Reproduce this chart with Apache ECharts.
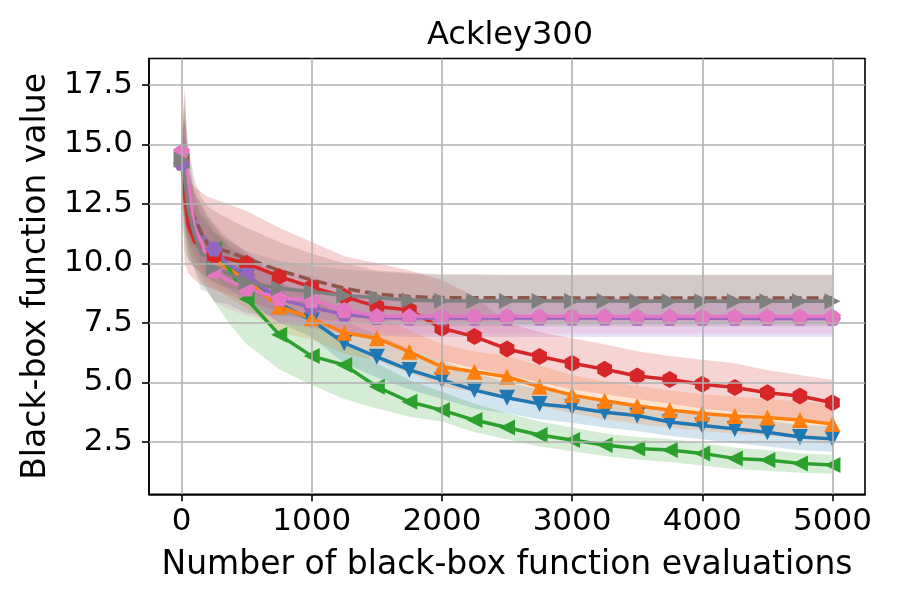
<!DOCTYPE html>
<html>
<head>
<meta charset="utf-8">
<script src="https://cdn.jsdelivr.net/npm/echarts@6/dist/echarts.min.js"></script>
<style>
html, body { margin: 0; padding: 0; background: #fff; }
#chart { width: 900px; height: 600px; }
</style>
</head>
<body>
<div id="chart"></div>
<script>
const evals = [0, 25, 50, 100, 150, 200, 250, 350, 500, 750, 1000, 1250, 1500, 1750, 2000, 2250, 2500, 2750, 3000, 3250, 3500, 3750, 4000, 4250, 4500, 4750, 5000];

const xTicks = [0, 1000, 2000, 3000, 4000, 5000];
const yTicks = [2.5, 5.0, 7.5, 10.0, 12.5, 15.0, 17.5];

// blue, down triangles
const blueMean = [14.3, 13.2, 11.9, 11.2, 10.8, 10.5, 10.3, 9.9, 9.4, 8.3, 7.6, 6.65, 6.07, 5.52, 5.1, 4.67, 4.35, 4.09, 3.95, 3.74, 3.6, 3.33, 3.18, 3.04, 2.9, 2.7, 2.62];
const blueLow = [13.2, 11.5, 10.2, 9.8, 9.6, 9.4, 9.2, 8.9, 8.5, 7.5, 6.9, 5.8, 5.2, 4.7, 4.3, 3.9, 3.7, 3.45, 3.3, 3.1, 2.95, 2.75, 2.6, 2.45, 2.3, 2.15, 2.08];
const blueHigh = [15.5, 15.2, 13.5, 12.5, 12.0, 11.6, 11.3, 10.8, 10.3, 9.2, 8.6, 7.6, 7.0, 6.4, 5.9, 5.4, 5.0, 4.7, 4.5, 4.3, 4.1, 3.85, 3.7, 3.55, 3.4, 3.2, 3.15];

// orange, up triangles
const orangeMean = [14.5, 13.5, 12.3, 11.4, 10.8, 10.5, 10.2, 9.8, 9.3, 8.18, 7.69, 7.08, 6.85, 6.28, 5.65, 5.44, 5.23, 4.81, 4.46, 4.22, 4.0, 3.83, 3.69, 3.58, 3.52, 3.41, 3.24];
const orangeLow = [13.2, 11.8, 10.6, 10.0, 9.5, 9.2, 9.0, 8.6, 8.1, 7.1, 6.8, 6.2, 5.9, 5.4, 4.8, 4.6, 4.4, 4.0, 3.7, 3.45, 3.25, 3.1, 2.95, 2.85, 2.75, 2.65, 2.5];
const orangeHigh = [15.8, 16.0, 14.0, 12.8, 12.2, 11.8, 11.5, 11.0, 10.4, 9.2, 8.6, 8.1, 7.8, 7.2, 6.6, 6.3, 6.1, 5.7, 5.3, 5.05, 4.85, 4.65, 4.5, 4.4, 4.3, 4.2, 4.05];

// green, left triangles
const greenMean = [14.3, 13.4, 12.4, 11.6, 11.2, 10.9, 10.6, 9.9, 8.5, 7.0, 6.1, 5.73, 4.81, 4.18, 3.83, 3.41, 3.1, 2.78, 2.57, 2.36, 2.22, 2.15, 2.01, 1.8, 1.73, 1.59, 1.52];
const greenLow = [13.0, 10.5, 10.2, 9.8, 9.2, 8.8, 8.4, 7.6, 6.6, 5.55, 4.88, 4.3, 3.9, 3.55, 3.35, 2.9, 2.6, 2.3, 2.1, 1.9, 1.75, 1.65, 1.5, 1.35, 1.28, 1.2, 1.15];
const greenHigh = [15.5, 16.5, 14.5, 13.0, 12.5, 12.0, 11.6, 10.8, 9.8, 8.3, 7.5, 6.8, 5.8, 5.1, 4.6, 4.1, 3.7, 3.35, 3.1, 2.85, 2.7, 2.6, 2.45, 2.25, 2.15, 2.0, 1.94];

// red, hexagons
const redMean = [14.3, 12.8, 11.6, 10.9, 10.7, 10.5, 10.3, 10.2, 10.0, 9.45, 9.0, 8.6, 8.18, 8.04, 7.27, 6.92, 6.4, 6.08, 5.8, 5.55, 5.26, 5.12, 4.92, 4.78, 4.56, 4.42, 4.14];
const redLow = [13.0, 10.0, 9.6, 9.3, 9.1, 9.0, 8.9, 8.7, 8.4, 8.0, 7.6, 7.2, 6.7, 6.4, 5.9, 5.6, 5.3, 5.0, 4.7, 4.5, 4.3, 4.1, 3.9, 3.75, 3.6, 3.45, 3.2];
const redHigh = [15.5, 17.4, 13.6, 13.2, 13.0, 12.8, 12.7, 12.5, 12.2, 11.5, 10.9, 10.3, 10.0, 9.7, 9.3, 8.6, 7.5, 7.1, 6.85, 6.6, 6.3, 6.1, 5.95, 5.8, 5.5, 5.3, 5.1];

// purple
const purpleMean = [14.2, 13.6, 12.7, 11.8, 11.2, 10.9, 10.6, 10.0, 9.5, 8.5, 8.15, 7.85, 7.72, 7.7, 7.7, 7.7, 7.7, 7.7, 7.7, 7.7, 7.69, 7.69, 7.69, 7.69, 7.68, 7.68, 7.68];
const purpleLow = [13.2, 11.5, 11.0, 10.6, 10.0, 9.7, 9.5, 9.0, 8.4, 7.5, 7.3, 7.0, 6.95, 6.9, 6.9, 6.9, 6.9, 6.9, 6.9, 6.9, 6.9, 6.9, 6.9, 6.9, 6.9, 6.9, 6.9];
const purpleHigh = [15.2, 16.0, 14.2, 13.0, 12.5, 12.0, 11.7, 11.1, 10.5, 9.5, 9.0, 8.7, 8.55, 8.5, 8.5, 8.5, 8.5, 8.5, 8.5, 8.5, 8.5, 8.5, 8.5, 8.5, 8.5, 8.5, 8.5];

// brown, dashed, no markers
const brownMean = [14.4, 13.7, 12.9, 11.9, 11.3, 10.8, 10.65, 10.5, 10.2, 9.7, 9.3, 8.95, 8.7, 8.6, 8.56, 8.55, 8.55, 8.55, 8.54, 8.54, 8.54, 8.54, 8.54, 8.54, 8.54, 8.54, 8.54];
const brownLow = [13.3, 12.0, 11.0, 10.3, 9.8, 9.4, 9.2, 9.0, 8.8, 8.4, 8.1, 7.8, 7.6, 7.55, 7.55, 7.55, 7.55, 7.55, 7.55, 7.55, 7.55, 7.55, 7.55, 7.55, 7.55, 7.55, 7.55];
const brownHigh = [15.5, 17.0, 15.0, 13.5, 12.8, 12.4, 12.2, 11.9, 11.5, 10.9, 10.4, 10.0, 9.7, 9.6, 9.55, 9.55, 9.52, 9.52, 9.52, 9.52, 9.52, 9.52, 9.52, 9.52, 9.52, 9.52, 9.52];

// pink, pentagons
const pinkMean = [14.7, 14.3, 13.5, 11.5, 10.9, 10.2, 9.7, 9.3, 8.95, 8.53, 8.46, 8.04, 7.78, 7.77, 7.77, 7.77, 7.77, 7.77, 7.77, 7.77, 7.76, 7.76, 7.76, 7.76, 7.76, 7.76, 7.76];
const pinkLow = [13.9, 12.8, 12.0, 10.0, 9.5, 8.9, 8.4, 8.1, 7.8, 7.5, 7.4, 7.1, 7.05, 7.05, 7.05, 7.05, 7.05, 7.05, 7.05, 7.05, 7.05, 7.05, 7.05, 7.05, 7.05, 7.05, 7.05];
const pinkHigh = [15.5, 15.8, 15.0, 13.0, 12.3, 11.5, 11.0, 10.5, 10.1, 9.6, 9.5, 9.0, 8.6, 8.55, 8.55, 8.55, 8.55, 8.55, 8.55, 8.55, 8.55, 8.55, 8.55, 8.55, 8.55, 8.55, 8.55];

// gray, right triangles
const grayMean = [14.35, 13.6, 12.3, 11.2, 10.4, 10.3, 9.8, 9.6, 9.2, 8.95, 8.8, 8.65, 8.55, 8.45, 8.43, 8.42, 8.42, 8.42, 8.42, 8.42, 8.41, 8.41, 8.41, 8.41, 8.41, 8.41, 8.41];
const grayLow = [13.4, 11.3, 10.6, 9.7, 8.9, 8.8, 8.4, 8.3, 7.9, 7.8, 7.7, 7.55, 7.45, 7.35, 7.35, 7.35, 7.35, 7.35, 7.35, 7.35, 7.35, 7.35, 7.35, 7.35, 7.35, 7.35, 7.35];
const grayHigh = [15.3, 16.0, 14.0, 12.8, 12.0, 11.8, 11.3, 11.0, 10.5, 10.1, 9.9, 9.75, 9.65, 9.55, 9.5, 9.5, 9.5, 9.5, 9.5, 9.5, 9.5, 9.5, 9.5, 9.5, 9.5, 9.5, 9.5];

const HEX = 'path://M0,-1L0.866,-0.5L0.866,0.5L0,1L-0.866,0.5L-0.866,-0.5Z';
const HEX_FLAT = 'path://M-1,0L-0.5,-0.866L0.5,-0.866L1,0L0.5,0.866L-0.5,0.866Z';
const PENTA = 'path://M0,-1L0.951,-0.309L0.588,0.809L-0.588,0.809L-0.951,-0.309Z';

const lines = [
    { color: '#1f77b4', mean: blueMean, low: blueLow, high: blueHigh, symbol: 'triangle', rotate: 180, size: 16 },
    { color: '#ff7f0e', mean: orangeMean, low: orangeLow, high: orangeHigh, symbol: 'triangle', rotate: 0, size: 16 },
    { color: '#2ca02c', mean: greenMean, low: greenLow, high: greenHigh, symbol: 'triangle', rotate: 90, size: 16 },
    { color: '#d62728', mean: redMean, low: redLow, high: redHigh, symbol: HEX, rotate: 0, size: 17 },
    { color: '#9467bd', mean: purpleMean, low: purpleLow, high: purpleHigh, symbol: HEX_FLAT, rotate: 0, size: 17 },
    { color: '#8c564b', mean: brownMean, low: brownLow, high: brownHigh, symbol: 'none', rotate: 0, size: 0, dashed: true },
    { color: '#e377c2', mean: pinkMean, low: pinkLow, high: pinkHigh, symbol: PENTA, rotate: 0, size: 17 },
    { color: '#7f7f7f', mean: grayMean, low: grayLow, high: grayHigh, symbol: 'triangle', rotate: -90, size: 16 }
];

const FONT = 'DejaVu Sans';
const series = [];

// grid lines as mark lines on an empty helper series
series.push({
    type: 'line',
    data: [],
    silent: true,
    z: 0,
    markLine: {
        silent: true,
        symbol: 'none',
        label: { show: false },
        lineStyle: { color: '#b0b0b0', width: 1.6, type: 'solid' },
        data: xTicks.map(v => ({ xAxis: v })).concat(yTicks.map(v => ({ yAxis: v })))
    }
});

// shaded bands, one polygon per curve built through the axis scales
lines.forEach(d => {
    series.push({
        type: 'custom',
        coordinateSystem: 'cartesian2d',
        data: [[evals[0], d.mean[0]]],
        silent: true,
        clip: true,
        z: 1,
        renderItem: (params, api) => {
            const top = evals.map((x, i) => api.coord([x, d.high[i]]));
            const bottom = evals.map((x, i) => api.coord([x, d.low[i]])).reverse();
            return {
                type: 'polygon',
                shape: { points: top.concat(bottom) },
                style: { fill: d.color, opacity: 0.2 }
            };
        }
    });
});

// mean curves with markers every 250 evaluations
lines.forEach(d => {
    series.push({
        type: 'line',
        data: evals.map((x, i) => [x, d.mean[i]]),
        symbol: d.symbol,
        symbolRotate: d.rotate,
        symbolKeepAspect: true,
        symbolSize: v => (v[0] % 250 === 0 ? d.size : 0),
        showAllSymbol: true,
        itemStyle: { color: d.color, opacity: 1 },
        lineStyle: { color: d.color, width: 3.5, type: d.dashed ? [12, 5] : 'solid' },
        silent: true,
        z: 3
    });
});

const chart = echarts.init(document.getElementById('chart'));
chart.setOption({
    animation: false,
    backgroundColor: '#fff',
    title: {
        text: 'Ackley300',
        left: 422,
        top: 15,
        textStyle: { fontFamily: FONT, fontSize: 32, fontWeight: 'normal', color: '#000' }
    },
    grid: {
        left: 149,
        right: 35,
        top: 58.5,
        bottom: 105.7,
        show: true,
        borderColor: '#000',
        borderWidth: 1.6,
        backgroundColor: 'transparent'
    },
    xAxis: {
        type: 'value',
        min: -250,
        max: 5250,
        name: 'Number of black-box function evaluations',
        nameLocation: 'middle',
        nameGap: 55,
        nameTextStyle: { fontFamily: FONT, fontSize: 33, color: '#000' },
        axisLine: { show: true, onZero: false, lineStyle: { color: '#000', width: 1.6 } },
        axisTick: { show: true, length: 7, customValues: xTicks, lineStyle: { color: '#000', width: 1.6 } },
        axisLabel: {
            customValues: xTicks,
            margin: 12,
            fontFamily: FONT,
            fontSize: 31,
            color: '#000',
            formatter: v => String(v)
        },
        splitLine: { show: false }
    },
    yAxis: {
        type: 'value',
        min: 0.29,
        max: 18.61,
        name: 'Black-box function value',
        nameLocation: 'middle',
        nameGap: 95,
        nameTextStyle: { fontFamily: FONT, fontSize: 33, color: '#000' },
        axisLine: { show: true, onZero: false, lineStyle: { color: '#000', width: 1.6 } },
        axisTick: { show: true, length: 7, customValues: yTicks, lineStyle: { color: '#000', width: 1.6 } },
        axisLabel: {
            customValues: yTicks,
            margin: 16,
            fontFamily: FONT,
            fontSize: 31,
            color: '#000',
            formatter: v => v.toFixed(1)
        },
        splitLine: { show: false }
    },
    series: series
});
</script>
</body>
</html>
